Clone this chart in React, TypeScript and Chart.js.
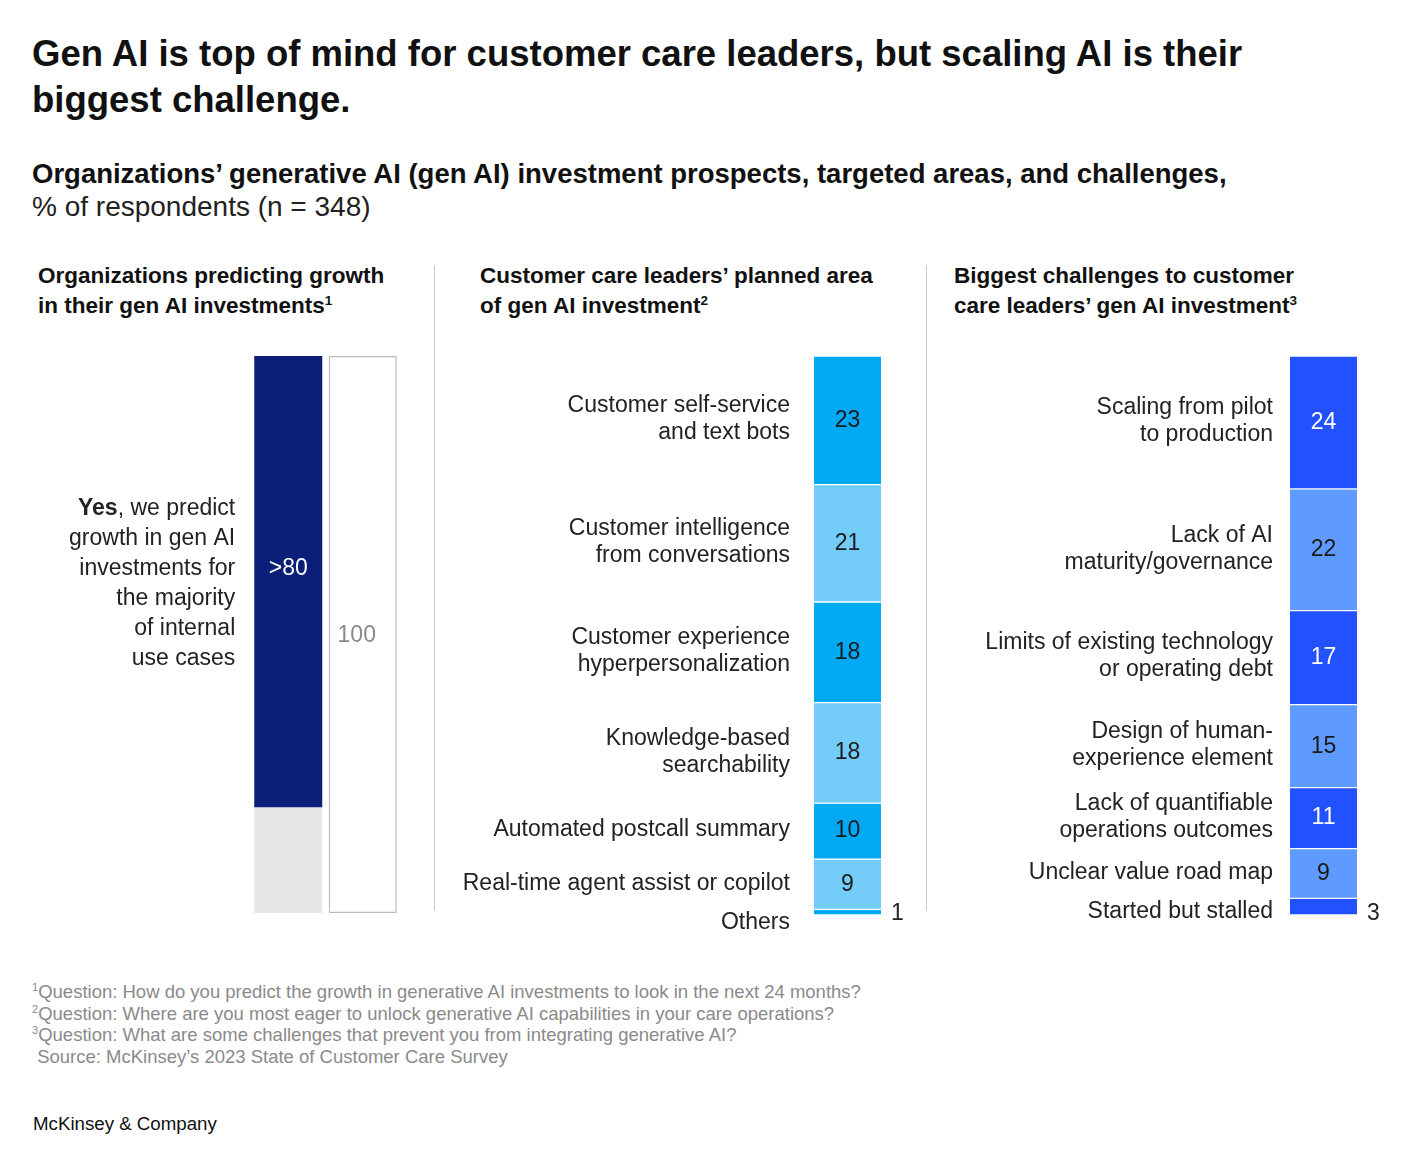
import React, { useEffect, useRef } from "react";
import { Chart, registerables } from "chart.js";

Chart.register(...registerables);

const FONT = "'Liberation Sans', Arial, Helvetica, sans-serif";
const TEXT = "#222222";

// ---------- Panel 1: organizations predicting growth ----------
const growthSegments = ["Yes", "Other"];
const growthValues = [81, 19];
const growthValueLabels = [">80", ""];
const growthTotal = 100;
const growthLabelLines = ["Yes, we predict", "growth in gen AI", "investments for", "the majority", "of internal", "use cases"];
const growthColors = ["#0B1F78", "#E6E6E6"];

// ---------- Panel 2: planned area of gen AI investment ----------
const areaCategories = [
  "Customer self-service\nand text bots",
  "Customer intelligence\nfrom conversations",
  "Customer experience\nhyperpersonalization",
  "Knowledge-based\nsearchability",
  "Automated postcall summary",
  "Real-time agent assist or copilot",
  "Others",
];
const areaValues = [23, 21, 18, 18, 10, 9, 1];
const areaColors = ["#00A9F4", "#72CCF7", "#00A9F4", "#72CCF7", "#00A9F4", "#72CCF7", "#00A9F4"];
const areaValueColors = ["#1a1a1a", "#1a1a1a", "#1a1a1a", "#1a1a1a", "#1a1a1a", "#1a1a1a", "#1a1a1a"];

// ---------- Panel 3: biggest challenges ----------
const challengeCategories = [
  "Scaling from pilot\nto production",
  "Lack of AI\nmaturity/governance",
  "Limits of existing technology\nor operating debt",
  "Design of human-\nexperience element",
  "Lack of quantifiable\noperations outcomes",
  "Unclear value road map",
  "Started but stalled",
];
const challengeValues = [24, 22, 17, 15, 11, 9, 3];
const challengeColors = ["#2251FF", "#5F9BFF", "#2251FF", "#5F9BFF", "#2251FF", "#5F9BFF", "#2251FF"];
const challengeValueColors = ["#ffffff", "#1a1a1a", "#ffffff", "#1a1a1a", "#ffffff", "#1a1a1a", "#1a1a1a"];

const LABEL_FONT = `23px ${FONT}`;

function GrowthPanel() {
  const ref = useRef<HTMLCanvasElement>(null);
  useEffect(() => {
    const canvas = ref.current!;
    const labelPlugin = {
      id: "growthLabels",
      afterDatasetsDraw(chart: any) {
        const ctx = chart.ctx as CanvasRenderingContext2D;
        const yesEl = chart.getDatasetMeta(0).data[0] as any;
        const totEl = chart.getDatasetMeta(2).data[1] as any;
        ctx.save();
        const segTop = Math.min(yesEl.y, yesEl.base);
        const segBot = Math.max(yesEl.y, yesEl.base);
        const cy = (segTop + segBot) / 2;
        const rightX = yesEl.x - yesEl.width / 2 - 19;
        const lh = 30;
        const startY = cy + 2 - ((growthLabelLines.length - 1) * lh) / 2;
        ctx.textBaseline = "middle";
        ctx.fillStyle = TEXT;
        growthLabelLines.forEach((line, i) => {
          const y = startY + i * lh;
          if (i === 0 && line.startsWith(growthSegments[0])) {
            const rest = line.slice(growthSegments[0].length);
            ctx.font = LABEL_FONT;
            ctx.textAlign = "right";
            ctx.fillText(rest, rightX, y);
            const w = ctx.measureText(rest).width;
            ctx.font = `bold 23px ${FONT}`;
            ctx.fillText(growthSegments[0], rightX - w, y);
          } else {
            ctx.font = LABEL_FONT;
            ctx.textAlign = "right";
            ctx.fillText(line, rightX, y);
          }
        });
        ctx.font = LABEL_FONT;
        ctx.textAlign = "center";
        ctx.fillStyle = "#ffffff";
        ctx.fillText(growthValueLabels[0], yesEl.x, cy - 13);
        ctx.fillStyle = "#8a8a8a";
        ctx.fillText(String(growthTotal), totEl.x - 6, (totEl.y + totEl.base) / 2 + 1);
        ctx.restore();
      },
    };
    const chart = new Chart(canvas, {
      type: "bar",
      data: {
        labels: ["Growth", "Total"],
        datasets: [
          {
            label: growthSegments[0],
            data: [growthValues[0], null],
            backgroundColor: growthColors[0],
            borderWidth: 0,
            barPercentage: 0.913,
            categoryPercentage: 1,
          },
          {
            label: growthSegments[1],
            data: [growthValues[1], null],
            backgroundColor: growthColors[1],
            borderWidth: 0,
            barPercentage: 0.913,
            categoryPercentage: 1,
          },
          {
            label: "Total",
            data: [null, growthTotal],
            backgroundColor: "#ffffff",
            borderColor: "#BDBDBD",
            borderWidth: 1.5,
            borderSkipped: false,
            barPercentage: 0.913,
            categoryPercentage: 1,
          },
        ] as any,
      },
      options: {
        animation: false,
        responsive: false,
        maintainAspectRatio: false,
        layout: { padding: { left: 251, right: 30, top: 16, bottom: 27 } },
        scales: {
          x: { stacked: true, display: false },
          y: { stacked: true, display: false, min: 0, max: growthTotal, reverse: true },
        },
        plugins: { legend: { display: false }, tooltip: { enabled: false } },
      },
      plugins: [labelPlugin],
    });
    return () => chart.destroy();
  }, []);
  return (
    <canvas
      ref={ref}
      width={430}
      height={600}
      style={{ position: "absolute", left: 0, top: 340, width: 430, height: 600 }}
    />
  );
}

type StackProps = {
  categories: string[];
  values: number[];
  colors: string[];
  valueColors: string[];
  left: number;
  width: number;
  padLeft: number;
  padRight: number;
  labelGap: number;
};

function StackPanel(props: StackProps) {
  const ref = useRef<HTMLCanvasElement>(null);
  useEffect(() => {
    const { categories, values, colors, valueColors, padLeft, padRight, labelGap } = props;
    const total = values.reduce((a, b) => a + b, 0);
    const labelPlugin = {
      id: "stackLabels",
      afterDatasetsDraw(chart: any) {
        const ctx = chart.ctx as CanvasRenderingContext2D;
        ctx.save();
        ctx.textBaseline = "middle";
        let prevLastY = -1000;
        values.forEach((v, i) => {
          const el = chart.getDatasetMeta(i).data[0] as any;
          const top = Math.min(el.y, el.base);
          const bot = Math.max(el.y, el.base);
          const cy = (top + bot) / 2;
          const h = bot - top;
          const lines = categories[i].split("\n");
          const lh = 27;
          let firstY = cy - 1 - ((lines.length - 1) * lh) / 2;
          if (firstY < prevLastY + 39) firstY = prevLastY + 39;
          ctx.font = LABEL_FONT;
          ctx.fillStyle = TEXT;
          ctx.textAlign = "right";
          ctx.textBaseline = "middle";
          const rx = el.x - el.width / 2 - labelGap;
          lines.forEach((ln, j) => ctx.fillText(ln, rx, firstY + j * lh));
          prevLastY = firstY + (lines.length - 1) * lh;
          if (h > 20) {
            ctx.textAlign = "center";
            ctx.fillStyle = valueColors[i];
            ctx.fillText(String(v), el.x, cy);
          } else {
            ctx.textAlign = "left";
            ctx.textBaseline = "alphabetic";
            ctx.fillStyle = TEXT;
            ctx.fillText(String(v), el.x + el.width / 2 + 10, bot + 5);
          }
        });
        ctx.restore();
      },
    };
    const chart = new Chart(ref.current!, {
      type: "bar",
      data: {
        labels: ["all"],
        datasets: values.map((v, i) => ({
          label: categories[i],
          data: [v],
          backgroundColor: colors[i],
          borderColor: "#ffffff",
          borderWidth: { top: 1, bottom: 1, left: 0, right: 0 },
          borderSkipped: false,
          barPercentage: 1,
          categoryPercentage: 1,
        })) as any,
      },
      options: {
        animation: false,
        responsive: false,
        maintainAspectRatio: false,
        layout: { padding: { left: padLeft, right: padRight, top: 16, bottom: 25 } },
        scales: {
          x: { stacked: true, display: false },
          y: { stacked: true, display: false, min: 0, max: total, reverse: true },
        },
        plugins: { legend: { display: false }, tooltip: { enabled: false } },
      },
      plugins: [labelPlugin],
    });
    return () => chart.destroy();
  }, []);
  return (
    <canvas
      ref={ref}
      width={props.width}
      height={600}
      style={{ position: "absolute", left: props.left, top: 340, width: props.width, height: 600 }}
    />
  );
}

const sup: React.CSSProperties = { fontSize: "0.6em", verticalAlign: "0.6em", lineHeight: 0 };

function Heading({ left, lines, note }: { left: number; lines: string[]; note: string }) {
  return (
    <div
      style={{
        position: "absolute",
        left,
        top: 261,
        font: `bold 22.5px ${FONT}`,
        lineHeight: "30px",
        color: "#111",
        whiteSpace: "nowrap",
      }}
    >
      {lines.map((l, i) => (
        <div key={i}>
          {l}
          {i === lines.length - 1 ? <span style={sup}>{note}</span> : null}
        </div>
      ))}
    </div>
  );
}

export default function App() {
  return (
    <div
      style={{
        position: "absolute",
        left: 0,
        top: 0,
        width: 1410,
        height: 1168,
        background: "#ffffff",
        fontFamily: FONT,
        color: TEXT,
        overflow: "hidden",
      }}
    >
      <div
        style={{
          position: "absolute",
          left: 32,
          top: 31,
          font: `bold 36.5px ${FONT}`,
          lineHeight: "46px",
          color: "#111",
          width: 1350,
          whiteSpace: "nowrap",
        }}
      >
        Gen AI is top of mind for customer care leaders, but scaling AI is their
        <br />
        biggest challenge.
      </div>
      <div style={{ position: "absolute", left: 32, top: 157, font: `bold 27.5px ${FONT}`, lineHeight: "34px", color: "#111", whiteSpace: "nowrap" }}>
        Organizations’ generative AI (gen AI) investment prospects, targeted areas, and challenges,
      </div>
      <div style={{ position: "absolute", left: 32, top: 190, font: `28px ${FONT}`, lineHeight: "34px", color: "#222", whiteSpace: "nowrap" }}>
        % of respondents (n = 348)
      </div>

      <Heading left={38} lines={["Organizations predicting growth", "in their gen AI investments"]} note="1" />
      <Heading left={480} lines={["Customer care leaders’ planned area", "of gen AI investment"]} note="2" />
      <Heading left={954} lines={["Biggest challenges to customer", "care leaders’ gen AI investment"]} note="3" />

      <div style={{ position: "absolute", left: 434, top: 265, width: 1, height: 646, background: "#C8C8C8" }} />
      <div style={{ position: "absolute", left: 926, top: 265, width: 1, height: 646, background: "#C8C8C8" }} />

      <GrowthPanel />
      <StackPanel
        categories={areaCategories}
        values={areaValues}
        colors={areaColors}
        valueColors={areaValueColors}
        left={440}
        width={480}
        padLeft={374}
        padRight={39}
        labelGap={24}
      />
      <StackPanel
        categories={challengeCategories}
        values={challengeValues}
        colors={challengeColors}
        valueColors={challengeValueColors}
        left={930}
        width={480}
        padLeft={360}
        padRight={53}
        labelGap={17}
      />

      <div
        style={{
          position: "absolute",
          left: 32,
          top: 981,
          font: `18.5px ${FONT}`,
          lineHeight: "21.5px",
          color: "#8a8a8a",
          whiteSpace: "nowrap",
        }}
      >
        <div>
          <span style={sup}>1</span>Question: How do you predict the growth in generative AI investments to look in the next 24 months?
        </div>
        <div>
          <span style={sup}>2</span>Question: Where are you most eager to unlock generative AI capabilities in your care operations?
        </div>
        <div>
          <span style={sup}>3</span>Question: What are some challenges that prevent you from integrating generative AI?
        </div>
        <div>&nbsp;Source: McKinsey’s 2023 State of Customer Care Survey</div>
      </div>
      <div style={{ position: "absolute", left: 33, top: 1113, font: `18.7px ${FONT}`, color: "#111", whiteSpace: "nowrap" }}>
        McKinsey &amp; Company
      </div>
    </div>
  );
}
